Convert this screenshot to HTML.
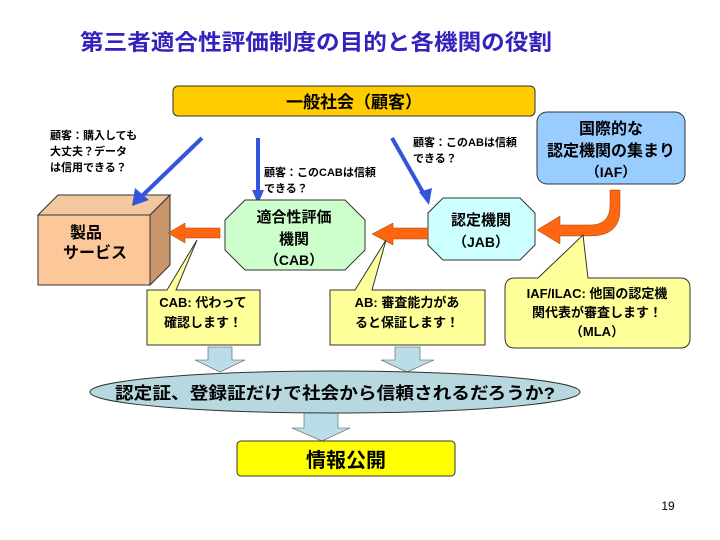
<!DOCTYPE html>
<html><head><meta charset="utf-8"><style>
html,body{margin:0;padding:0;background:#fff}
svg{display:block}
text{font-family:"Liberation Sans","Noto Sans CJK JP",sans-serif;font-weight:bold;fill:#000}
</style></head><body>
<svg width="720" height="540" viewBox="0 0 720 540" xmlns="http://www.w3.org/2000/svg">
<text x="80" y="50" font-size="22" textLength="472" lengthAdjust="spacingAndGlyphs" style="fill:#3322bb">第三者適合性評価制度の目的と各機関の役割</text>

<rect x="173" y="86" width="362" height="30" rx="5" fill="#ffcc00" stroke="#333" stroke-width="1"/>
<text x="354" y="108" font-size="17" text-anchor="middle">一般社会（顧客）</text>

<rect x="537" y="112" width="148" height="72" rx="10" fill="#99ccff" stroke="#333"/>
<text x="611" y="134" font-size="16" text-anchor="middle">国際的な</text>
<text x="611" y="156" font-size="16" text-anchor="middle">認定機関の集まり</text>
<text x="611" y="177" font-size="14" text-anchor="middle">（IAF）</text>

<!-- cube -->
<polygon points="38,215 58,195 170,195 150,215" fill="#f3c89e" stroke="#333"/>
<polygon points="150,215 170,195 170,265 150,285" fill="#c8966a" stroke="#333"/>
<rect x="38" y="215" width="112" height="70" fill="#fcc89a" stroke="#333"/>
<text x="86" y="238" font-size="16" text-anchor="middle">製品</text>
<text x="95" y="258" font-size="16" text-anchor="middle">サービス</text>

<!-- blue arrows -->
<g stroke="#3355dd" stroke-width="4" fill="none">
<line x1="202" y1="138" x2="142" y2="196"/>
<line x1="258" y1="138" x2="258" y2="195"/>
<line x1="392" y1="138" x2="425" y2="196"/>
</g>
<g fill="#3355dd">
<polygon points="132,206 135,188 149,200"/>
<polygon points="258,204 252,190 264,190"/>
<polygon points="429,205 419,192 432,188"/>
</g>
<text x="50" y="139" font-size="11">顧客：購入しても</text>
<text x="50" y="155" font-size="11">大丈夫？データ</text>
<text x="50" y="171" font-size="11">は信用できる？</text>
<text x="264" y="176" font-size="11">顧客：このCABは信頼</text>
<text x="264" y="192" font-size="11">できる？</text>
<text x="413" y="146" font-size="11">顧客：このABは信頼</text>
<text x="413" y="162" font-size="11">できる？</text>

<!-- CAB octagon -->
<polygon points="245,200 345,200 365,220 365,250 345,270 245,270 225,250 225,220" fill="#ccffcc" stroke="#333"/>
<text x="294" y="222" font-size="15" text-anchor="middle">適合性評価</text>
<text x="294" y="244" font-size="15" text-anchor="middle">機関</text>
<text x="294" y="265" font-size="14" text-anchor="middle">（CAB）</text>

<!-- JAB octagon -->
<polygon points="443,198 520,198 535,213 535,245 520,260 443,260 428,245 428,213" fill="#ccffff" stroke="#333"/>
<text x="481" y="225" font-size="15" text-anchor="middle">認定機関</text>
<text x="481" y="247" font-size="14" text-anchor="middle">（JAB）</text>

<!-- orange arrows -->
<g fill="#ff6611" stroke="#994400" stroke-width="0.5">
<polygon points="220,228 185,228 185,223 168,233 185,243 185,238 220,238"/>
<polygon points="428,228 393,228 393,223 372,234 393,245 393,239 428,239"/>
<path d="M610,190 L620,190 L620,210 Q620,236 590,236 L560,236 L560,244 L537,230 L560,216 L560,225 L590,225 Q610,225 610,205 z"/>
</g>

<!-- callouts -->
<g fill="#ffff99" stroke="#333">
<path d="M147,290 L167,290 L197,240 L176,290 L260,290 L260,345 L147,345 z"/>
<path d="M330,290 L355,290 L386,240 L372,290 L485,290 L485,345 L330,345 z"/>
<path d="M515,278 L538,278 L583,235 L588,278 L680,278 Q690,278 690,288 L690,338 Q690,348 680,348 L515,348 Q505,348 505,338 L505,288 Q505,278 515,278 z"/>
</g>
<text x="203" y="307" font-size="13" text-anchor="middle">CAB: 代わって</text>
<text x="203" y="327" font-size="13" text-anchor="middle">確認します！</text>
<text x="407" y="307" font-size="13" text-anchor="middle">AB: 審査能力があ</text>
<text x="407" y="327" font-size="13" text-anchor="middle">ると保証します！</text>
<text x="597" y="298" font-size="13" text-anchor="middle">IAF/ILAC: 他国の認定機</text>
<text x="597" y="317" font-size="13" text-anchor="middle">関代表が審査します！</text>
<text x="597" y="336" font-size="13" text-anchor="middle">（MLA）</text>

<!-- light blue down arrows -->
<g fill="#bbdde8" stroke="#555" stroke-width="0.6">
<polygon points="208,347 232,347 232,360 245,360 220,372 195,360 208,360"/>
<polygon points="395,347 420,347 420,360 434,360 407,372 381,360 395,360"/>
<polygon points="304,412 338,412 338,428 350,428 322,441 292,428 304,428"/>
</g>
<ellipse cx="335" cy="392" rx="245" ry="21" fill="#b8d8e0" stroke="#333"/>
<text x="335" y="399" font-size="17" text-anchor="middle" textLength="440" lengthAdjust="spacingAndGlyphs">認定証、登録証だけで社会から信頼されるだろうか?</text>

<rect x="237" y="441" width="218" height="35" rx="4" fill="#ffff00" stroke="#333"/>
<text x="346" y="467" font-size="20" text-anchor="middle">情報公開</text>

<text x="668" y="510" font-size="12" text-anchor="middle" style="font-weight:normal">19</text>
</svg>
</body></html>
